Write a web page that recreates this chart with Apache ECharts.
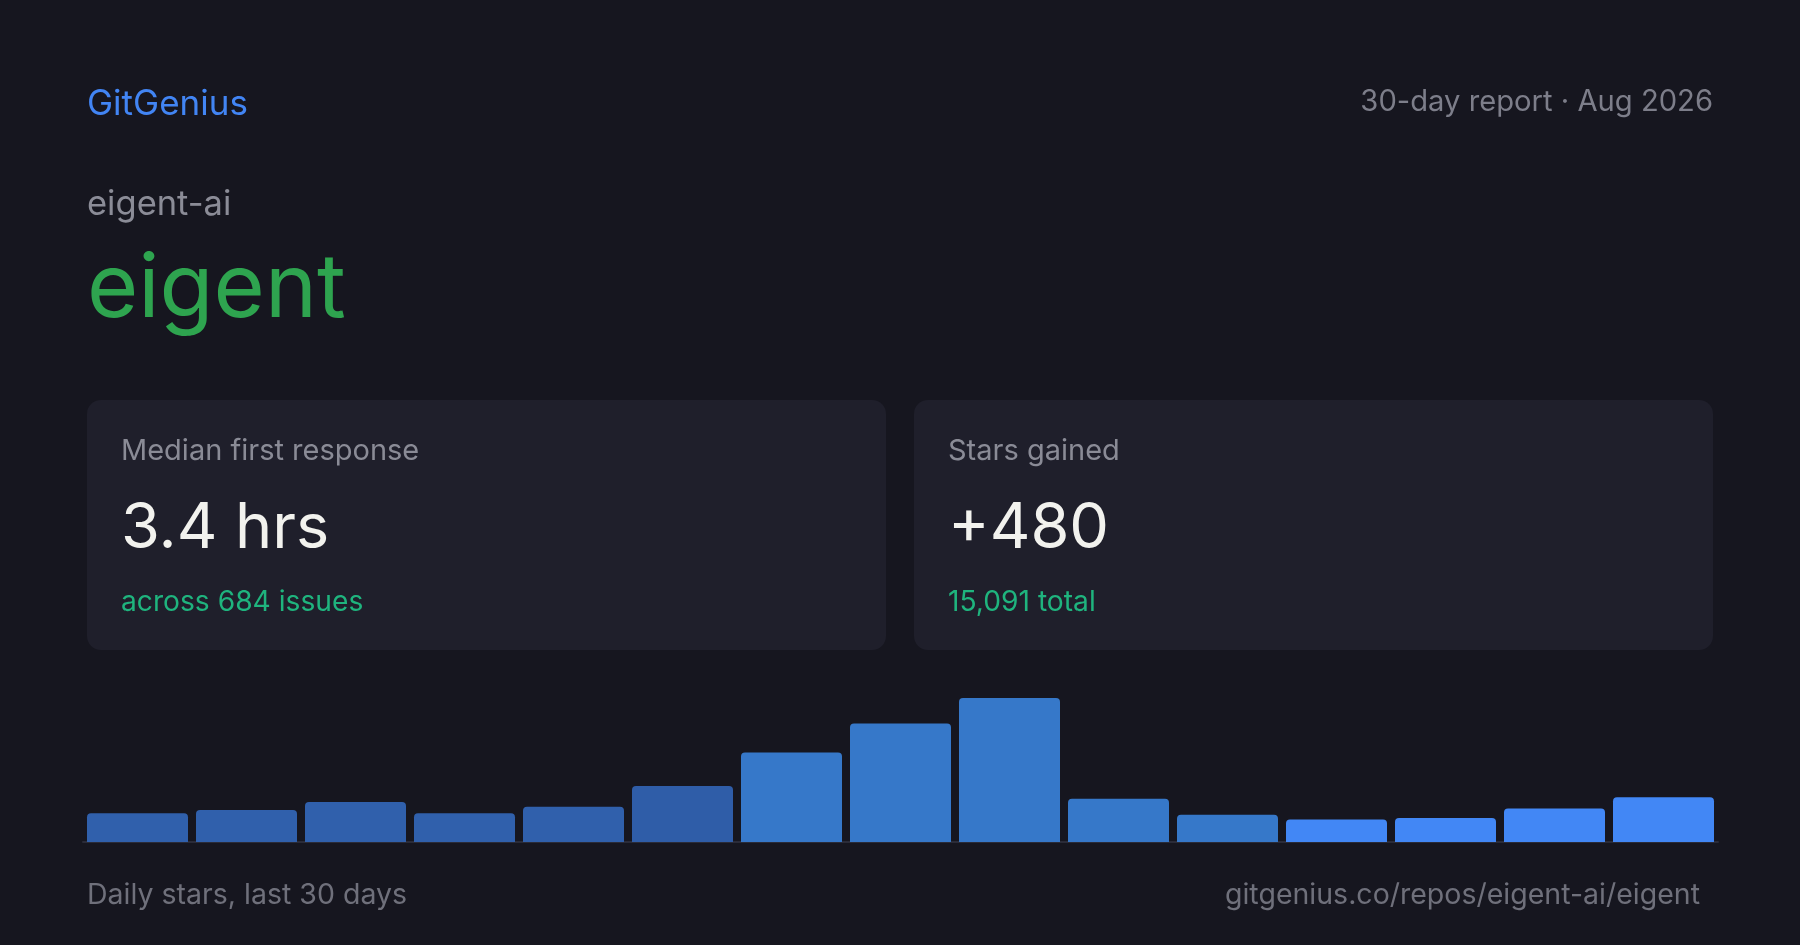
<!DOCTYPE html>
<html>
<head>
<meta charset="utf-8">
<script src="https://cdn.jsdelivr.net/npm/echarts@6/dist/echarts.min.js"></script>
<style>
  html, body { margin: 0; padding: 0; background: #16161f; }
  #chart { width: 1800px; height: 945px; }
</style>
</head>
<body>
<div id="chart"></div>
<script>
// ---- data ----
var brand = 'GitGenius';
var reportLabel = '30-day report · Aug 2026';
var owner = 'eigent-ai';
var repo = 'eigent';
var cardLabels = ['Median first response', 'Stars gained'];
var cardValues = ['3.4 hrs', '+480'];
var cardSubs = ['across 684 issues', '15,091 total'];
var barCategories = ['1', '2', '3', '4', '5', '6', '7', '8', '9', '10', '11', '12', '13', '14', '15'];
var dailyStars = [18, 20, 25, 18, 22, 35, 56, 74, 90, 27, 17, 14, 15, 21, 28];
var barColors = ['#3060ac', '#3060ac', '#3060ac', '#3060ac', '#3060ac', '#2f5da8',
                 '#3678c9', '#3678c9', '#3678c9', '#3678c9', '#3678c9',
                 '#4287f5', '#4287f5', '#4287f5', '#4287f5'];
var footerLeft = 'Daily stars, last 30 days';
var footerRight = 'gitgenius.co/repos/eigent-ai/eigent';

// ---- chart ----
var FONT = 'Inter, "Noto Sans", sans-serif';
function txt(text, x, y, size, color, align, weight) {
  return {
    type: 'text', x: x, y: y, silent: true,
    style: {
      text: text, fill: color, textAlign: align || 'left', textVerticalAlign: 'middle',
      font: (weight || 'normal') + ' ' + size + 'px ' + FONT
    }
  };
}

var graphics = [
  txt(brand, 87, 104, 35, '#4285f4'),
  txt(reportLabel, 1713, 102, 29.2, '#7d7e8a', 'right'),
  txt(owner, 87, 205, 34.5, '#8b8c97'),
  txt(repo, 87, 291, 88, '#2ea44f'),
  txt(footerLeft, 87, 895, 28.5, '#6f707b'),
  txt(footerRight, 1700, 895, 28.5, '#6f707b', 'right')
];
var cardX = [87, 914];
for (var i = 0; i < 2; i++) {
  graphics.push({
    type: 'rect', silent: true, z: -1,
    shape: { x: cardX[i], y: 400, width: 799, height: 250, r: 14 },
    style: { fill: '#1f1f2b' }
  });
  graphics.push(txt(cardLabels[i], cardX[i] + 34, 451, 29, '#8a8b96'));
  graphics.push(txt(cardValues[i], cardX[i] + 34, 529, 63, '#f2f2ee'));
  graphics.push(txt(cardSubs[i], cardX[i] + 34, 603, 28.2, '#1fb47e'));
}

var chart = echarts.init(document.getElementById('chart'));
chart.setOption({
  backgroundColor: '#16161f',
  animation: false,
  grid: { left: 83, right: 82, top: 698, bottom: 103 },
  xAxis: {
    type: 'category',
    data: barCategories,
    axisLine: { show: true, lineStyle: { color: '#2a2b38', width: 2 } },
    axisTick: { show: false },
    axisLabel: { show: false }
  },
  yAxis: {
    type: 'value', min: 0, max: 90,
    show: false, splitLine: { show: false }
  },
  series: [{
    type: 'bar',
    barWidth: 101,
    data: dailyStars.map(function (v, i) {
      return { value: v, itemStyle: { color: barColors[i] } };
    }),
    itemStyle: { borderRadius: [4, 4, 0, 0] }
  }],
  graphic: graphics
});
</script>
</body>
</html>
